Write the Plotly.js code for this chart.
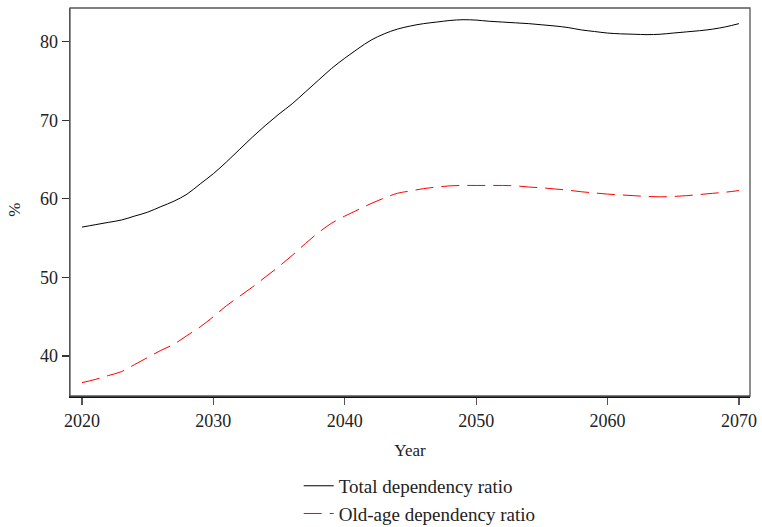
<!DOCTYPE html>
<html>
<head>
<meta charset="utf-8">
<script src="https://cdn.plot.ly/plotly-3.0.1.min.js"></script>
<style>html,body{margin:0;padding:0;background:#fff;}#chart{width:762px;height:527px;}</style>
</head>
<body>
<div id="chart"></div>
<script>
const years = [2020,2021,2022,2023,2024,2025,2026,2027,2028,2029,2030,2031,2032,2033,2034,2035,2036,2037,2038,2039,2040,2041,2042,2043,2044,2045,2046,2047,2048,2049,2050,2051,2052,2053,2054,2055,2056,2057,2058,2059,2060,2061,2062,2063,2064,2065,2066,2067,2068,2069,2070];
const totalRatio = [56.4,56.7,57.0,57.3,57.8,58.3,59.0,59.7,60.6,61.9,63.2,64.7,66.3,67.9,69.4,70.8,72.1,73.6,75.1,76.6,77.9,79.1,80.2,81.0,81.6,82.0,82.3,82.5,82.7,82.8,82.75,82.6,82.5,82.4,82.3,82.15,82.0,81.8,81.5,81.3,81.1,81.0,80.95,80.9,80.95,81.1,81.25,81.4,81.6,81.9,82.3];
const oldAgeRatio = [36.6,37.0,37.5,38.0,38.9,39.8,40.7,41.5,42.6,43.7,45.0,46.4,47.6,48.8,50.1,51.4,52.8,54.3,55.7,56.9,57.8,58.6,59.4,60.1,60.7,61.0,61.3,61.5,61.65,61.7,61.7,61.7,61.7,61.65,61.5,61.4,61.25,61.1,60.9,60.75,60.6,60.5,60.4,60.3,60.25,60.3,60.4,60.55,60.7,60.85,61.05];
const seriesNames = ["Total dependency ratio","Old-age dependency ratio"];
const xTicks = [2020,2030,2040,2050,2060,2070];
const yTicks = [40,50,60,70,80];
const yTitle = "%";

const font = "'Liberation Serif', 'Times New Roman', 'DejaVu Serif', serif";
const traces = [
  {x: years, y: totalRatio, name: seriesNames[0], type: "scatter", mode: "lines",
   line: {color: "#000000", width: 1, shape: "spline"}},
  {x: years, y: oldAgeRatio, name: seriesNames[1], type: "scatter", mode: "lines",
   line: {color: "#ff0000", width: 1, dash: "18px,8px", shape: "spline"}}
];
const layout = {
  width: 762, height: 527,
  margin: {l: 70, r: 12, t: 8, b: 131, autoexpand: false},
  paper_bgcolor: "#ffffff", plot_bgcolor: "#ffffff",
  font: {family: font, size: 17, color: "#222222"},
  showlegend: true,
  legend: {orientation: "v", xref: "container", yref: "container",
           x: 0.392, xanchor: "left", y: 0.114, yanchor: "top",
           font: {family: font, size: 19, color: "#222222"}, tracegroupgap: 0, itemwidth: 30},
  xaxis: {range: [2019.09, 2070.84], tickvals: xTicks, ticktext: xTicks.map(String), automargin: true,
          showgrid: false, zeroline: false, showline: true, linecolor: "#111111", linewidth: 2.2,
          ticks: "outside", ticklen: 7, tickwidth: 1.3, tickcolor: "#555555",
          tickfont: {family: font, size: 18, color: "#222222"},
          title: {text: "Year", font: {family: font, size: 17, color: "#222222"}, standoff: 14}},
  yaxis: {range: [34.9, 84.29], tickvals: yTicks, ticktext: yTicks.map(String), automargin: false,
          showgrid: false, zeroline: false, showline: true, linecolor: "#555555", linewidth: 1.3,
          ticks: "outside", ticklen: 7, tickwidth: 1.3, tickcolor: "#333333",
          tickfont: {family: font, size: 18, color: "#222222"}},
  annotations: [{text: yTitle, xref: "paper", yref: "paper", x: -0.081, y: 0.48,
                 xanchor: "center", yanchor: "middle", textangle: -90, showarrow: false,
                 font: {family: font, size: 17, color: "#222222"}}],
  shapes: [{type: "rect", xref: "paper", yref: "paper", x0: 0, x1: 1, y0: 0, y1: 1,
            line: {color: "#555555", width: 1.3}, layer: "above"}]
};
Plotly.newPlot("chart", traces, layout, {staticPlot: true, displayModeBar: false});
</script>
</body>
</html>
